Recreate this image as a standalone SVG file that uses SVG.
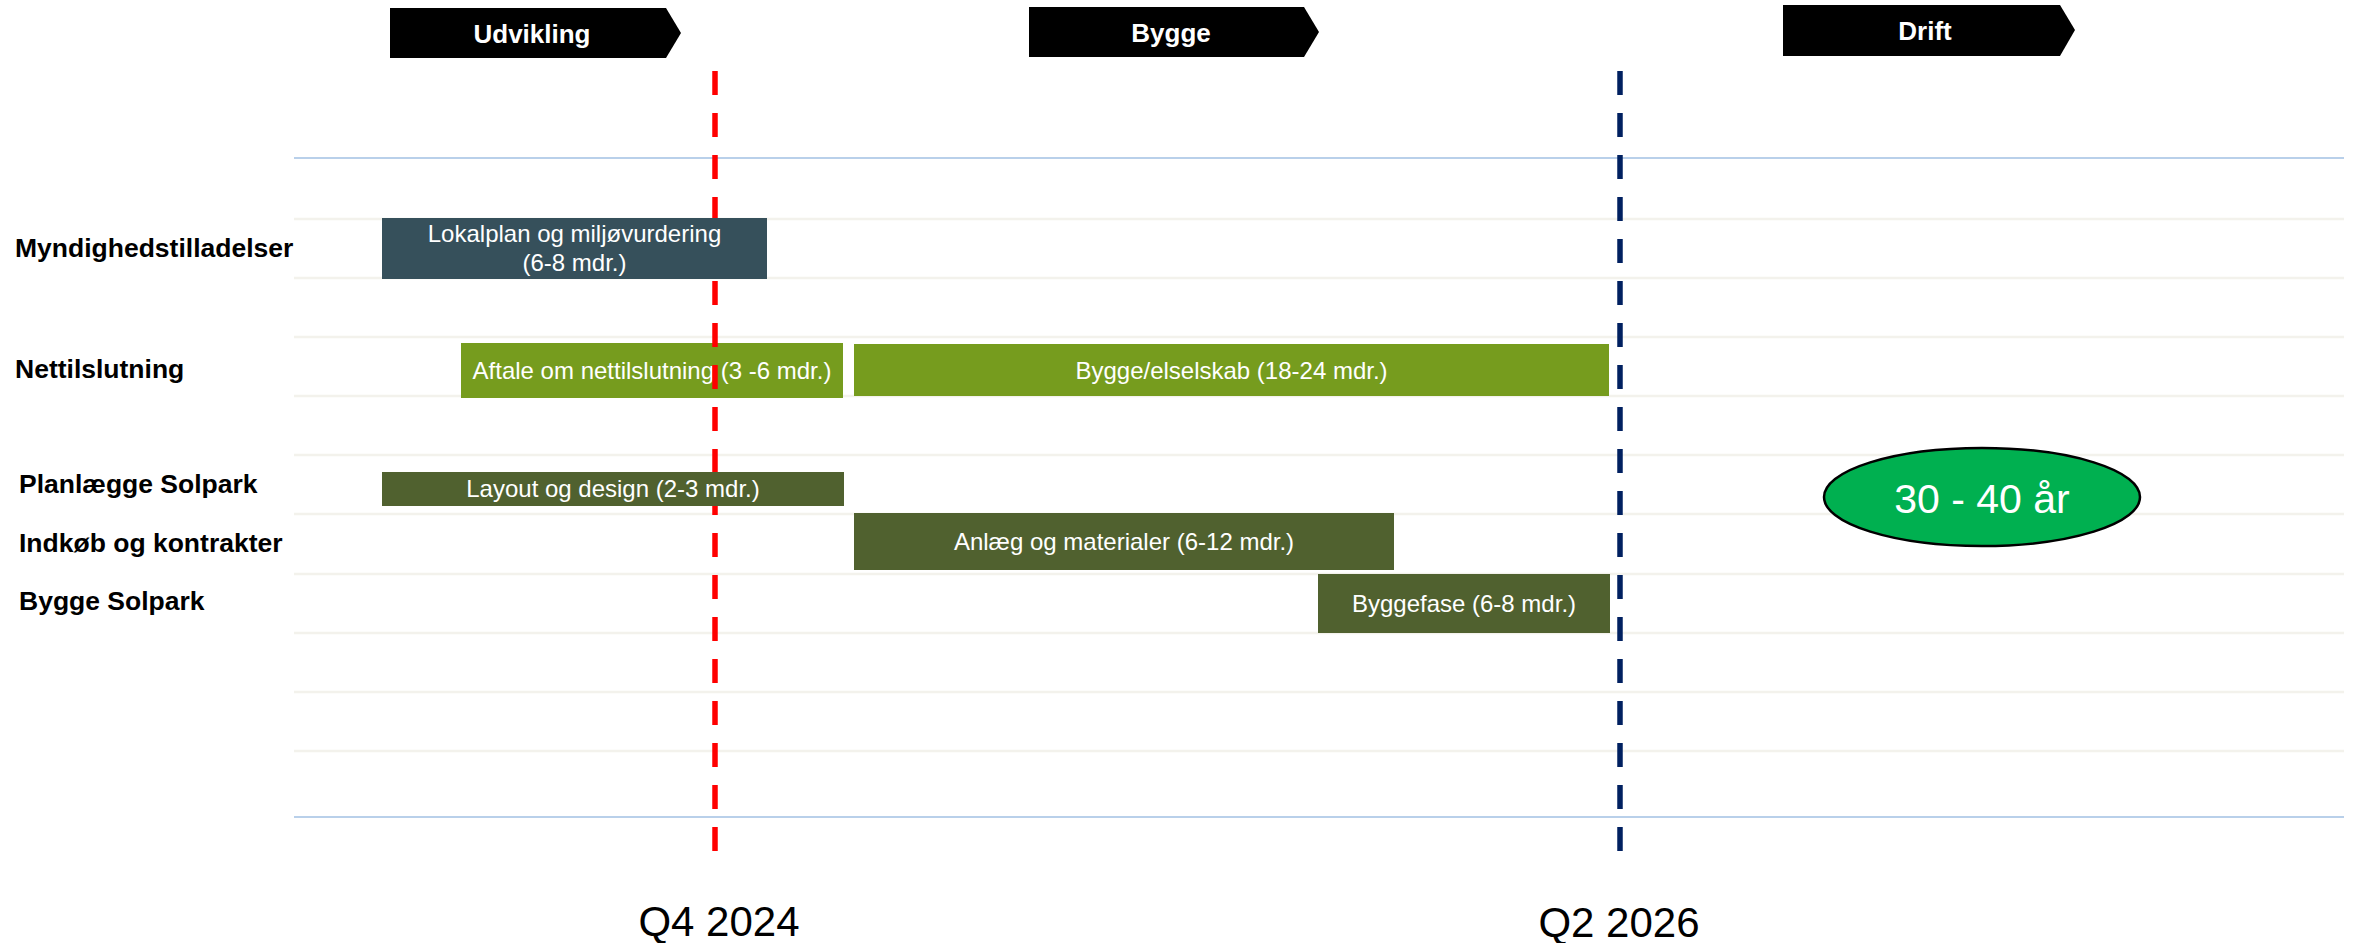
<svg xmlns="http://www.w3.org/2000/svg" width="2359" height="943" viewBox="0 0 2359 943">
<style>
.grid{stroke:#F3F2EC;stroke-width:2.5;fill:none}
.axis{stroke:#B9D0EA;stroke-width:2.2;fill:none}
.banner{fill:#000}
.btxt{font-family:"Liberation Sans",Arial,sans-serif;font-weight:bold;font-size:26px;fill:#fff;text-anchor:middle}
.row{font-family:"Liberation Sans",Arial,sans-serif;font-weight:bold;font-size:26.5px;fill:#000}
.bar{font-family:"Liberation Sans",Arial,sans-serif;font-size:24px;fill:#fff;text-anchor:middle}
.q{font-family:"Liberation Sans",Arial,sans-serif;font-size:42px;fill:#000;text-anchor:middle}
.dash{stroke-width:5.5;stroke-dasharray:24 18;fill:none}
.slate{fill:#36505B}
.lime{fill:#769C1E}
.olive{fill:#50612F}
</style>
<rect width="2359" height="943" fill="#fff"/>
<g id="grid">
<line class="axis" x1="294" y1="158" x2="2344" y2="158"/>
<line class="grid" x1="294" y1="219" x2="2344" y2="219"/>
<line class="grid" x1="294" y1="278" x2="2344" y2="278"/>
<line class="grid" x1="294" y1="337" x2="2344" y2="337"/>
<line class="grid" x1="294" y1="396" x2="2344" y2="396"/>
<line class="grid" x1="294" y1="455" x2="2344" y2="455"/>
<line class="grid" x1="294" y1="514" x2="2344" y2="514"/>
<line class="grid" x1="294" y1="574" x2="2344" y2="574"/>
<line class="grid" x1="294" y1="633" x2="2344" y2="633"/>
<line class="grid" x1="294" y1="692" x2="2344" y2="692"/>
<line class="grid" x1="294" y1="751" x2="2344" y2="751"/>
<line class="axis" x1="294" y1="817" x2="2344" y2="817"/>
</g>
<g id="phase-udvikling">
<polygon class="banner" points="390,8 666,8 681,33 666,58 390,58"/>
<text class="btxt" x="532" y="43">Udvikling</text>
</g>
<g id="phase-bygge">
<polygon class="banner" points="1029,7 1304,7 1319,32 1304,57 1029,57"/>
<text class="btxt" x="1171" y="42">Bygge</text>
</g>
<g id="phase-drift">
<polygon class="banner" points="1783,5 2060,5 2075,30 2060,56 1783,56"/>
<text class="btxt" x="1925" y="40">Drift</text>
</g>
<g id="labels">
<text class="row" x="15" y="257">Myndighedstilladelser</text>
<text class="row" x="15" y="378">Nettilslutning</text>
<text class="row" x="19" y="493">Planlægge Solpark</text>
<text class="row" x="19" y="552">Indkøb og kontrakter</text>
<text class="row" x="19" y="610">Bygge Solpark</text>
</g>
<g id="bar-aftale">
<rect class="lime" x="461" y="343" width="382" height="55"/>
<text class="bar" x="652" y="379">Aftale om nettilslutning (3 -6 mdr.)</text>
</g>
<g id="connectors">
<line class="dash" x1="715" y1="71" x2="715" y2="851" stroke="#FF0000"/>
<line class="dash" x1="1620" y1="71" x2="1620" y2="851" stroke="#002060"/>
</g>
<g id="bar-lokalplan">
<rect class="slate" x="382" y="218" width="385" height="61"/>
<text class="bar" x="574.5" y="242">Lokalplan og miljøvurdering</text>
<text class="bar" x="574.5" y="271">(6-8 mdr.)</text>
</g>
<g id="bar-elselskab">
<rect class="lime" x="854" y="344" width="755" height="52"/>
<text class="bar" x="1231.5" y="379">Bygge/elselskab (18-24 mdr.)</text>
</g>
<g id="bar-layout">
<rect class="olive" x="382" y="472" width="462" height="34"/>
<text class="bar" x="613" y="497">Layout og design (2-3 mdr.)</text>
</g>
<g id="bar-anlaeg">
<rect class="olive" x="854" y="513" width="540" height="57"/>
<text class="bar" x="1124" y="550">Anlæg og materialer (6-12 mdr.)</text>
</g>
<g id="bar-byggefase">
<rect class="olive" x="1318" y="574" width="292" height="59"/>
<text class="bar" x="1464" y="612">Byggefase (6-8 mdr.)</text>
</g>
<g id="drift-duration">
<ellipse cx="1982" cy="497" rx="158" ry="49" fill="#00B050" stroke="#000" stroke-width="2.5"/>
<text x="1982" y="513" font-family="Liberation Sans, Arial, sans-serif" font-size="41" fill="#fff" text-anchor="middle">30 - 40 år</text>
</g>
<g id="milestones">
<text class="q" x="719" y="936">Q4 2024</text>
<text class="q" x="1619" y="937">Q2 2026</text>
</g>
</svg>
